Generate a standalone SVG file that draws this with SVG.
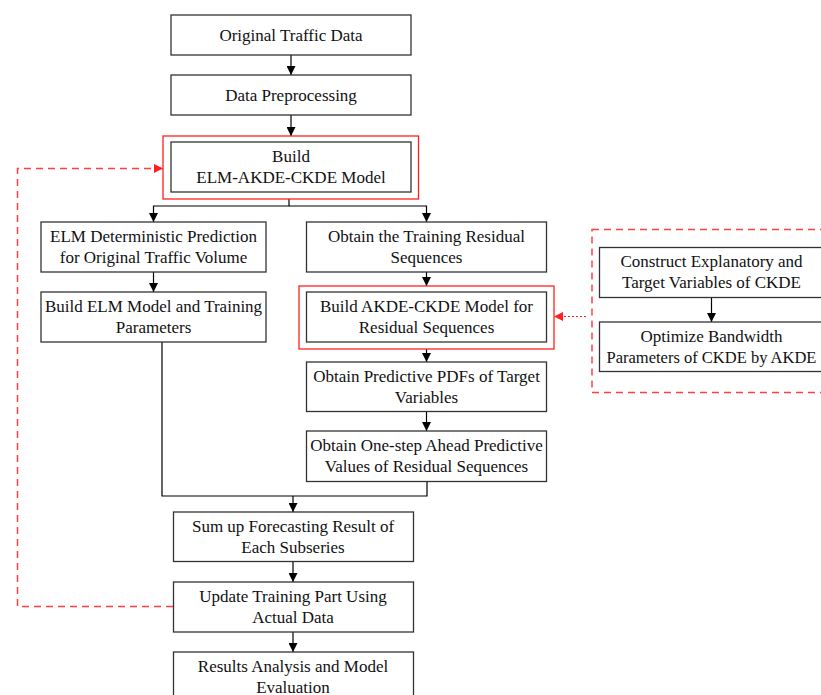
<svg xmlns="http://www.w3.org/2000/svg" width="821" height="695" viewBox="0 0 821 695">
<style>
.box{fill:#fff;stroke:#333;stroke-width:1.3}
.red{fill:none;stroke:#ff2020;stroke-width:1.3}
.ln{fill:none;stroke:#000;stroke-width:1.2}
.dash{fill:none;stroke:#ff4040;stroke-width:1.5;stroke-dasharray:7,5}
.dot{fill:none;stroke:#ff2020;stroke-width:1.2;stroke-dasharray:2,2}
text{font-family:'Liberation Serif','Times New Roman',serif;font-size:17px;fill:#111;text-anchor:middle}
.sm{font-size:16.5px}
</style>
<defs>
<marker id="ah" viewBox="0 0 10 10" refX="10" refY="5" markerWidth="9" markerHeight="9" markerUnits="userSpaceOnUse" orient="auto"><path d="M0,0L10,5L0,10z" fill="#000"/></marker>
<marker id="rh" viewBox="0 0 10 10" refX="10" refY="5" markerWidth="9" markerHeight="9" markerUnits="userSpaceOnUse" orient="auto"><path d="M0,0L10,5L0,10z" fill="#ff2020"/></marker>
</defs>
<g id="connectors">
<path class="ln" d="M291,55V75" marker-end="url(#ah)"/>
<path class="ln" d="M291,115V136" marker-end="url(#ah)"/>
<path class="ln" d="M289,199V206H153.5V222" marker-end="url(#ah)"/>
<path class="ln" d="M289,206H426.5V222" marker-end="url(#ah)"/>
<path class="ln" d="M153.5,272V292" marker-end="url(#ah)"/>
<path class="ln" d="M426.5,272V286" marker-end="url(#ah)"/>
<path class="ln" d="M426.5,349V362" marker-end="url(#ah)"/>
<path class="ln" d="M426.5,411V431" marker-end="url(#ah)"/>
<path class="ln" d="M162,342V496H427V481"/>
<path class="ln" d="M293,496V512" marker-end="url(#ah)"/>
<path class="ln" d="M293,561V582" marker-end="url(#ah)"/>
<path class="ln" d="M293,632V652" marker-end="url(#ah)"/>
<path class="ln" d="M711.5,297V322" marker-end="url(#ah)"/>
<path class="dot" d="M586,316.5H554" marker-end="url(#rh)"/>
<path class="dash" d="M173,606.5H17.5V168.5H163" marker-end="url(#rh)"/>
</g>
<g id="n1"><rect class="box" x="171" y="15" width="240" height="40"/><text x="291" y="40.5">Original Traffic Data</text></g>
<g id="n2"><rect class="box" x="171" y="75" width="240" height="40"/><text x="291" y="100.5">Data Preprocessing</text></g>
<g id="n3"><rect class="red" x="163" y="136" width="255.5" height="63"/><rect class="box" x="171" y="142" width="240" height="50"/><text x="291" y="162">Build</text><text x="291" y="183">ELM-AKDE-CKDE Model</text></g>
<g id="n4"><rect class="box" x="41" y="222" width="225" height="50"/><text x="153.5" y="242">ELM Deterministic Prediction</text><text x="153.5" y="263">for Original Traffic Volume</text></g>
<g id="n5"><rect class="box" x="41" y="292" width="225" height="50"/><text x="153.5" y="312">Build ELM Model and Training</text><text x="153.5" y="333">Parameters</text></g>
<g id="n6"><rect class="box" x="306.5" y="222" width="240" height="50"/><text x="426.5" y="242">Obtain the Training Residual</text><text x="426.5" y="263">Sequences</text></g>
<g id="n7"><rect class="red" x="299" y="286" width="255" height="63"/><rect class="box" x="306.5" y="292" width="240" height="50"/><text x="426.5" y="312">Build AKDE-CKDE Model for</text><text x="426.5" y="333">Residual Sequences</text></g>
<g id="n8"><rect class="box" x="306.5" y="362" width="240" height="49.5"/><text x="426.5" y="381.5">Obtain Predictive PDFs of Target</text><text x="426.5" y="402.5">Variables</text></g>
<g id="n9"><rect class="box" x="306.5" y="431" width="240" height="50.5"/><text x="426.5" y="451">Obtain One-step Ahead Predictive</text><text x="426.5" y="472">Values of Residual Sequences</text></g>
<g id="n10"><rect class="dash" x="592" y="229.5" width="240" height="163"/></g>
<g id="n11"><rect class="box" x="599.5" y="247.5" width="230" height="50"/><text x="711.5" y="267">Construct Explanatory and</text><text x="711.5" y="288">Target Variables of CKDE</text></g>
<g id="n12"><rect class="box" x="599.5" y="322" width="230" height="49.5"/><text x="711.5" y="342">Optimize Bandwidth</text><text class="sm" x="711.5" y="363">Parameters of CKDE by AKDE</text></g>
<g id="n13"><rect class="box" x="173.5" y="512" width="240" height="49.5"/><text x="293" y="531.5">Sum up Forecasting Result of</text><text x="293" y="552.5">Each Subseries</text></g>
<g id="n14"><rect class="box" x="173.5" y="582" width="240" height="50"/><text x="293" y="601.5">Update Training Part Using</text><text x="293" y="622.5">Actual Data</text></g>
<g id="n15"><rect class="box" x="173.5" y="652" width="240" height="50"/><text x="293" y="671.5">Results Analysis and Model</text><text x="293" y="692.5">Evaluation</text></g>
</svg>
